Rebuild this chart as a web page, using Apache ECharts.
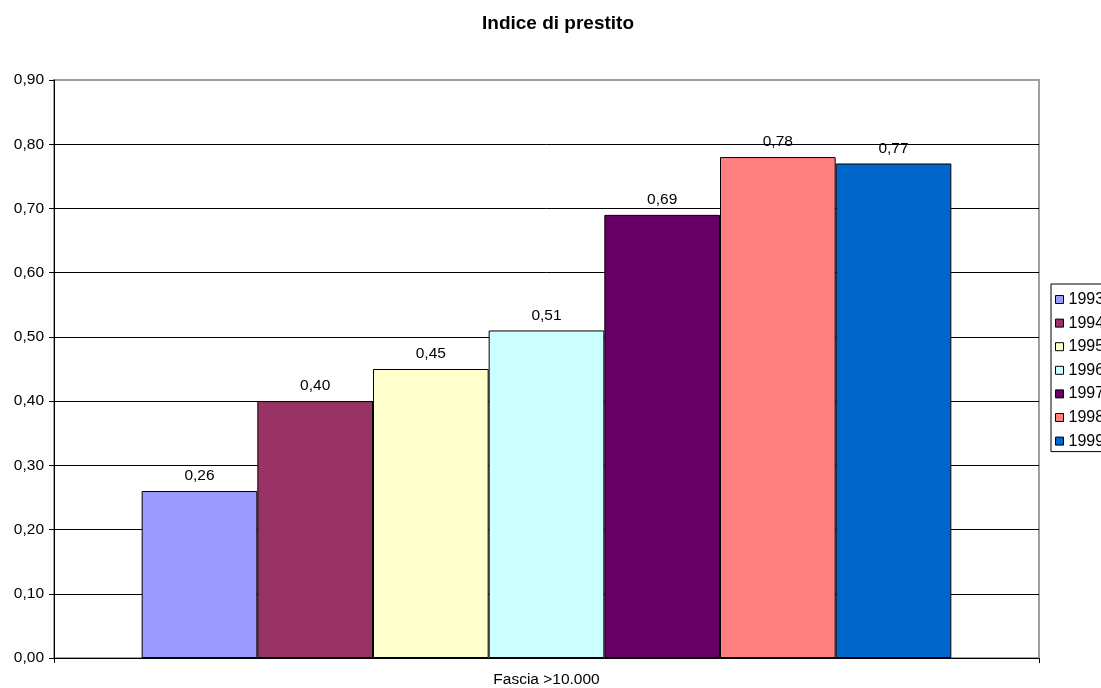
<!DOCTYPE html>
<html>
<head>
<meta charset="utf-8">
<style>
  html, body { margin: 0; padding: 0; background: #fff; }
  #chart { width: 1101px; height: 688px; }
</style>
<script src="https://cdn.jsdelivr.net/npm/echarts@6/dist/echarts.min.js"></script>
</head>
<body>
<div id="chart"></div>
<script>
// Lending index by year, single size band
const categories = ['Fascia >10.000'];
const years = ['1993', '1994', '1995', '1996', '1997', '1998', '1999'];
const values = [0.26, 0.40, 0.45, 0.51, 0.69, 0.78, 0.77];
const colors = ['#9999FF', '#993366', '#FFFFCC', '#CCFFFF', '#660066', '#FF8080', '#0066CC'];

const FONT = 'Liberation Sans, Arial, sans-serif';
const fmt = v => v.toFixed(2).replace('.', ',');

const chart = echarts.init(document.getElementById('chart'), null, { renderer: 'canvas' });

const series = years.map((y, i) => ({
  name: y,
  type: 'bar',
  data: [values[i]],
  barGap: '0%',
  barCategoryGap: '17.8%',
  itemStyle: { color: colors[i], borderColor: '#000', borderWidth: 1 },
  label: {
    show: true,
    position: 'top',
    distance: 7,
    color: '#000',
    fontFamily: FONT,
    fontSize: 15.5,
    formatter: p => fmt(p.value)
  }
}));

chart.setOption({
  animation: false,
  backgroundColor: '#fff',
  color: colors,
  title: {
    text: 'Indice di prestito',
    left: 477,
    top: 9,
    textStyle: { fontFamily: FONT, fontSize: 19, fontWeight: 'bold', color: '#000' }
  },
  grid: {
    left: 54, right: 62, top: 80, bottom: 30,
    show: true, borderColor: '#a0a0a0', borderWidth: 2, backgroundColor: '#fff'
  },
  legend: {
    orient: 'vertical',
    left: 1051,
    top: 284,
    padding: [6, 40, 1, 4],
    itemWidth: 8,
    itemHeight: 8,
    itemGap: 4.6,
    backgroundColor: '#fff',
    borderColor: '#000',
    borderWidth: 1,
    borderRadius: 0,
    icon: 'rect',
    itemStyle: { borderColor: '#000', borderWidth: 1 },
    textStyle: { fontFamily: FONT, fontSize: 16, color: '#000', padding: [0, 0, 0, 0], lineHeight: 19 },
    data: years
  },
  xAxis: {
    type: 'category',
    data: categories,
    axisLine: { lineStyle: { color: '#000', width: 1 } },
    axisTick: { show: true, length: 5, lineStyle: { color: '#000' } },
    axisLabel: { color: '#000', fontFamily: FONT, fontSize: 15.5, margin: 14 }
  },
  yAxis: {
    type: 'value',
    min: 0,
    max: 0.9,
    interval: 0.1,
    axisLine: { show: true, lineStyle: { color: '#000', width: 1 } },
    axisTick: { show: true, length: 5, lineStyle: { color: '#000' } },
    axisLabel: { color: '#000', fontFamily: FONT, fontSize: 15.5, margin: 10, formatter: v => fmt(v) },
    splitLine: { show: true, showMaxLine: false, lineStyle: { color: '#000', width: 1 } }
  },
  series: series
});
</script>
</body>
</html>
